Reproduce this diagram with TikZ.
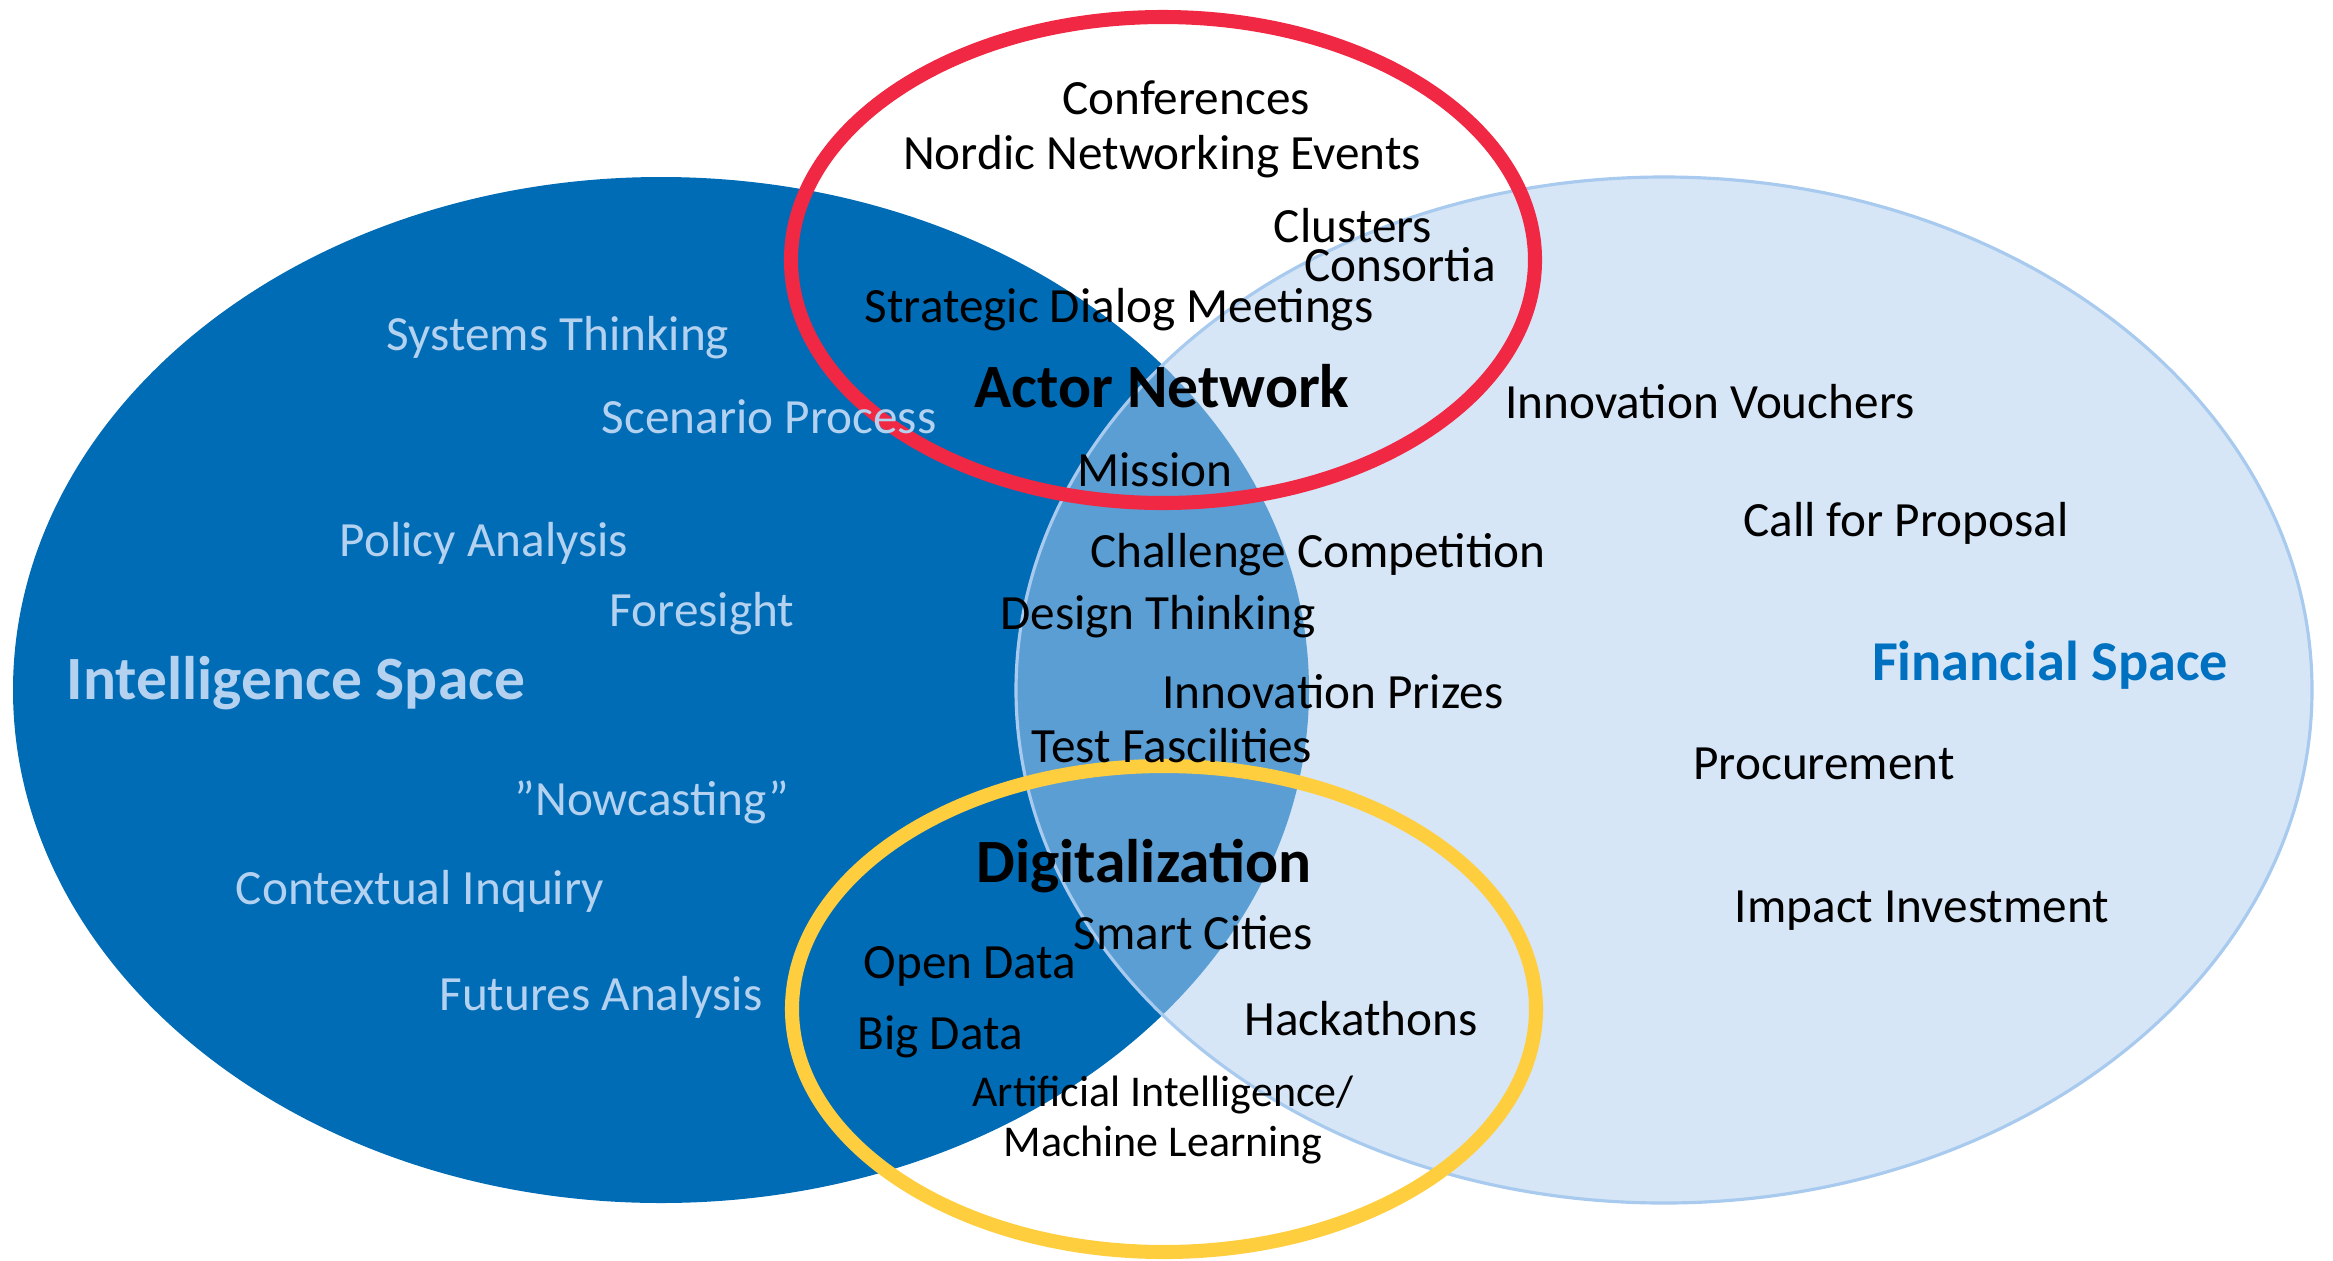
\documentclass[tikz,border=0pt]{standalone}
\usepackage{fontspec}
\setmainfont{Carlito}
\definecolor{intelblue}{RGB}{0,108,182}
\definecolor{finblue}{RGB}{214,230,246}
\definecolor{lensblue}{RGB}{90,158,212}
\definecolor{finedge}{RGB}{168,202,238}
\definecolor{paletext}{RGB}{180,210,240}
\definecolor{headblue}{RGB}{0,112,192}
\definecolor{actorred}{RGB}{240,40,68}
\definecolor{digiyellow}{RGB}{255,206,62}
\begin{document}
\begin{tikzpicture}[x=0.01cm,y=-0.01cm,
    item/.style={font=\fontsize{14}{16}\selectfont},
    pale/.style={item,text=paletext},
    head/.style={font=\fontsize{17.5}{20}\selectfont\bfseries},
    ring/.style={line width=4pt}]
    \useasboundingbox (0,0) rectangle (2333,1260);
    \coordinate (ci) at (661,690);
    \coordinate (cf) at (1664,690);
    \coordinate (ca) at (1163,260);
    \coordinate (cd) at (1164,1009);
    % the two spaces
    \fill[intelblue] (ci) ellipse [x radius=648, y radius=513];
    \fill[finblue] (cf) ellipse [x radius=648, y radius=513];
    \begin{scope}
      \clip (ci) ellipse [x radius=648, y radius=513];
      \fill[lensblue] (cf) ellipse [x radius=648, y radius=513];
    \end{scope}
    \draw[finedge, line width=0.9pt] (cf) ellipse [x radius=648, y radius=513];
    % actor network and digitalization
    \draw[ring, actorred] (ca) ellipse [x radius=372, y radius=243];
    \draw[ring, digiyellow] (cd) ellipse [x radius=372, y radius=243];

    \node[item] (conf) at (1186,98) {Conferences};
    \node[item] (nordic) at (1162,157) {Nordic Networking Events};
    \node[item] (clust) at (1353,226) {Clusters};
    \node[item] (cons) at (1400,265) {Consortia};
    \node[item] (strat) at (1119,310) {Strategic Dialog Meetings};
    \node[head] (actor) at (1162,386) {Actor Network};
    \node[item] (miss) at (1155,470) {Mission};

    \node[pale] (sys) at (558,338) {Systems Thinking};
    \node[pale] (scen) at (769,417) {Scenario Process};
    \node[pale] (pol) at (484,543) {Policy Analysis};
    \node[pale] (fore) at (702,614) {Foresight};
    \node[head, text=paletext] (intel) at (296,683) {Intelligence Space};
    \node[pale] (now) at (652,802) {”Nowcasting”};
    \node[pale] (ctx) at (420,891) {Contextual Inquiry};
    \node[pale] (fut) at (601,997) {Futures Analysis};

    \node[item] (chal) at (1318,555) {Challenge Competition};
    \node[item] (des) at (1158,617) {Design Thinking};
    \node[item] (priz) at (1333,692) {Innovation Prizes};
    \node[item] (test) at (1172,746) {Test Fascilities};

    \node[item] (vouch) at (1710,402) {Innovation Vouchers};
    \node[item] (call) at (1906,523) {Call for Proposal};
    \node[head, font=\fontsize{16}{19}\selectfont\bfseries, text=headblue] (fin) at (2050,665) {Financial Space};
    \node[item] (proc) at (1824,764) {Procurement};
    \node[item] (imp) at (1922,911) {Impact Investment};

    \node[head] (digi) at (1144,866) {Digitalization};
    \node[item] (smart) at (1193,933) {Smart Cities};
    \node[item] (open) at (970,966) {Open Data};
    \node[item] (hack) at (1361,1019) {Hackathons};
    \node[item] (big) at (940,1037) {Big Data};
    \node[font=\fontsize{12.5}{14.5}\selectfont, align=center] (ai) at (1163,1120)
      {Artificial Intelligence/\\Machine Learning};
  \end{tikzpicture}
\end{document}
